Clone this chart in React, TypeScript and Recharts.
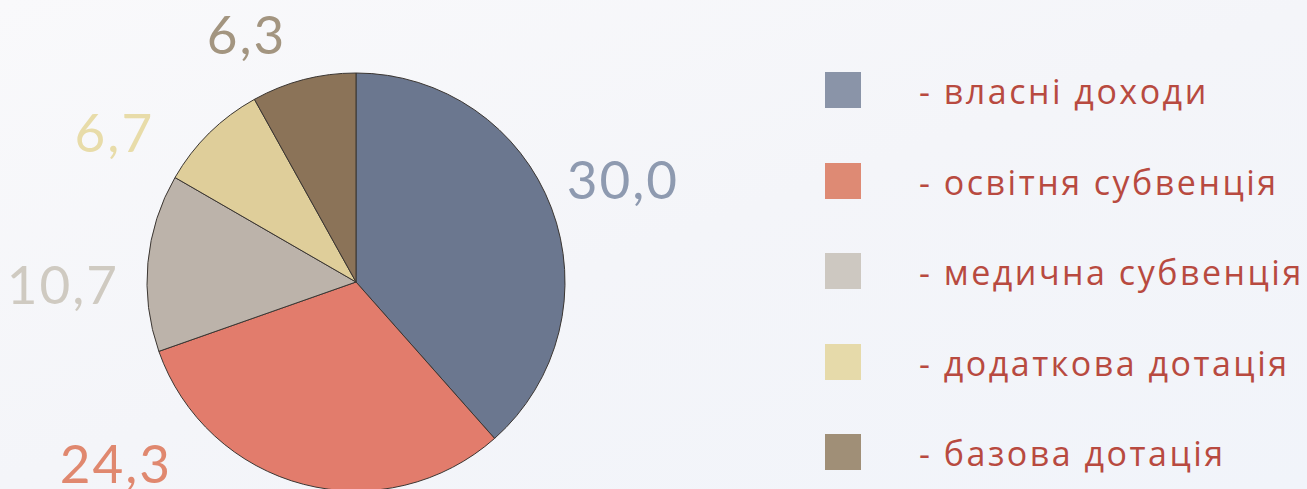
import { PieChart, Pie, Cell, Legend } from "recharts";

const categories = [
  "власні доходи",
  "освітня субвенція",
  "медична субвенція",
  "додаткова дотація",
  "базова дотація",
];
const values = [30.0, 24.3, 10.7, 6.7, 6.3];

const SLICE_COLORS = ["#6B778F", "#E27C6C", "#BCB3AA", "#DFCE9A", "#8B7358"];
const LABEL_COLORS = ["#8E9AB0", "#E0886F", "#CFCAC1", "#E8DCA9", "#A39580"];
const SWATCH_COLORS = ["#8A94A8", "#DE8A74", "#CDC8C1", "#E6DAAA", "#A08F77"];

// hand tweaks so the value labels sit where the original put them: [angle deg, extra radius px]
const LABEL_NUDGE: [number, number][] = [
  [5, 25],
  [-30.7, 50],
  [6, 28],
  [9, 42],
  [1.2, 48],
];

const RADIAN = Math.PI / 180;
const LABEL_SIZE = 53;

const fmt = (v: number) => v.toFixed(1).replace(".", ",");

const renderLabel = (props: any) => {
  const { cx, cy, midAngle, outerRadius, index, value } = props;
  const [dAngle, dR] = LABEL_NUDGE[index];
  const a = (midAngle + dAngle) * RADIAN;
  const r = outerRadius + dR;
  const x = cx + r * Math.cos(a);
  const y = cy - r * Math.sin(a);
  return (
    <text
      x={x}
      y={y + LABEL_SIZE * 0.36}
      fill={LABEL_COLORS[index]}
      textAnchor={x > cx ? "start" : "end"}
      style={{ fontFamily: "Lato, 'Open Sans', sans-serif", fontSize: LABEL_SIZE, letterSpacing: 2 }}
    >
      {fmt(value)}
    </text>
  );
};

const renderLegend = () => (
  <div>
    {categories.map((name, i) => (
      <div key={name} style={{ display: "flex", alignItems: "center", height: 90.5 }}>
        <div style={{ width: 36, height: 36, background: SWATCH_COLORS[i], marginRight: 58 }} />
        <span
          style={{
            color: "#B84A40",
            fontFamily: "'Open Sans', sans-serif",
            fontSize: 34,
            letterSpacing: 2.5,
            whiteSpace: "nowrap",
            position: "relative",
            top: 1,
          }}
        >
          - {name}
        </span>
      </div>
    ))}
  </div>
);

export default function App() {
  const data = categories.map((name, i) => ({ name, value: values[i] }));

  return (
    <div
      style={{
        width: 1307,
        height: 489,
        overflow: "hidden",
        background: "linear-gradient(160deg, #F9F9FB 0%, #F4F5F9 50%, #F1F4FA 100%)",
      }}
    >
      <style>{"body{margin:0}"}</style>
      <PieChart width={1307} height={489} margin={{ top: 0, right: 0, bottom: 0, left: 0 }}>
        <Pie
          data={data}
          dataKey="value"
          nameKey="name"
          cx={356}
          cy={282}
          outerRadius={209}
          startAngle={90}
          endAngle={-270}
          stroke="#3b3632"
          strokeWidth={1}
          label={renderLabel}
          labelLine={false}
          isAnimationActive={false}
        >
          {data.map((_, i) => (
            <Cell key={i} fill={SLICE_COLORS[i]} />
          ))}
        </Pie>
        <Legend
          layout="vertical"
          content={renderLegend}
          wrapperStyle={{ left: 825, top: 45, width: 480 }}
        />
      </PieChart>
    </div>
  );
}
